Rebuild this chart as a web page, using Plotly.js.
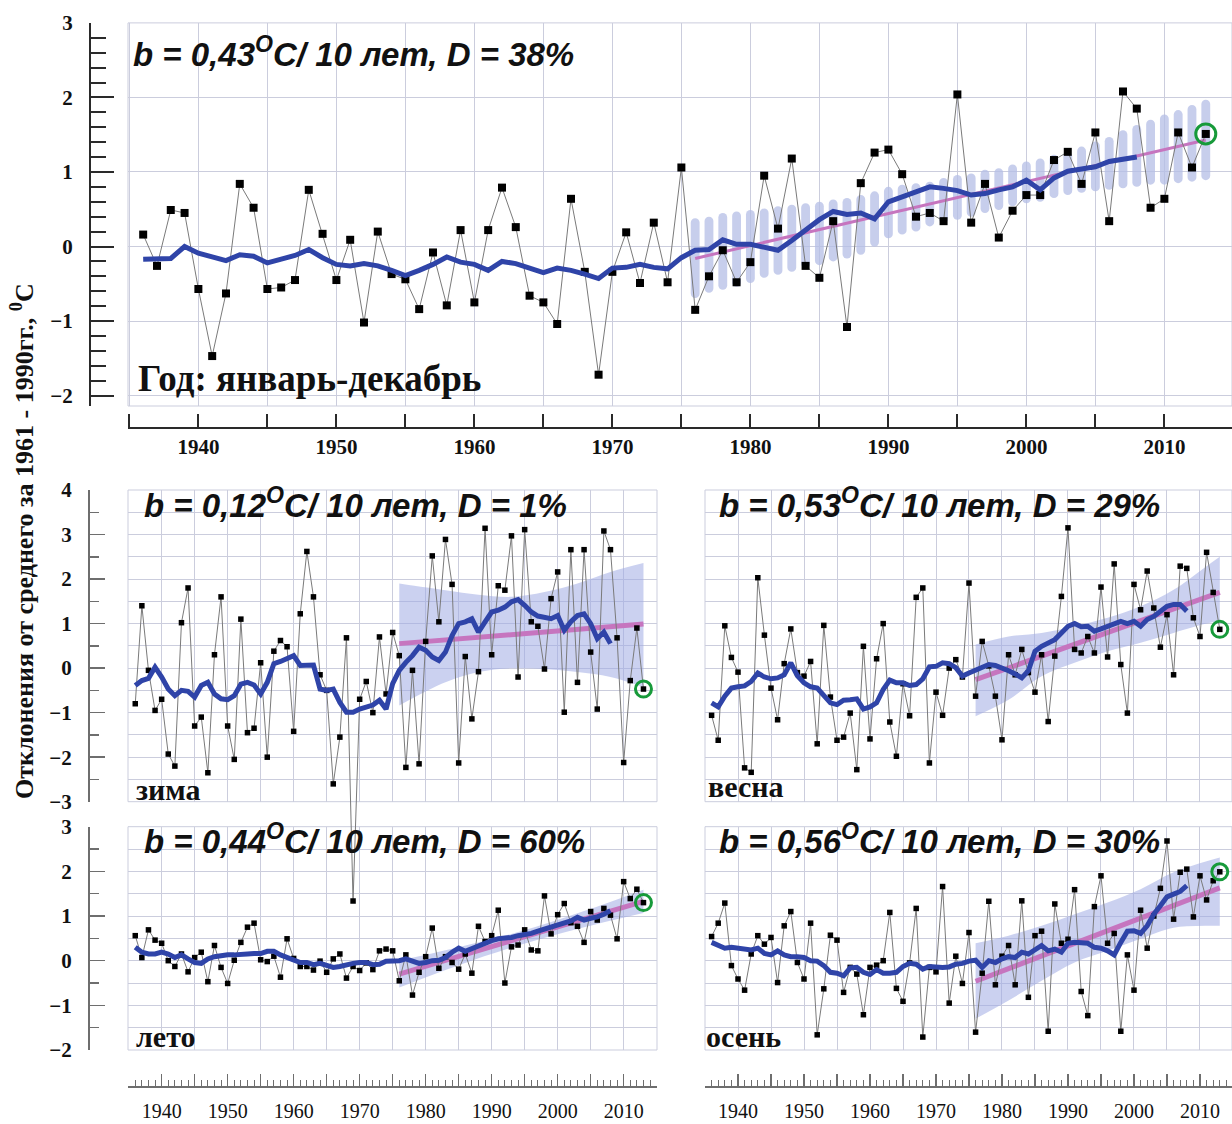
<!DOCTYPE html>
<html>
<head>
<meta charset="utf-8">
<script src="https://cdn.plot.ly/plotly-3.0.1.min.js"></script>
<style>
  html, body { margin: 0; padding: 0; background: #ffffff; }
  #chart { width: 1232px; height: 1124px; }
</style>
</head>
<body>
<div id="chart"></div>
<script>
// ---------------- DATA ----------------
const firstYear = 1936;          // first year of every series
const lastYear = 2013;           // last year of observations
const maLastYear = 2008;         // moving average ends here
const trendYears = [1976, 2013]; // linear trend period

// Annual (January-December) anomalies, 1936-2013
const annualValues = [
  0.16, -0.26, 0.49, 0.45, -0.57, -1.47, -0.63, 0.84, 0.52, -0.57,
  -0.55, -0.45, 0.76, 0.17, -0.45, 0.09, -1.02, 0.20, -0.37, -0.44,
  -0.84, -0.08, -0.79, 0.22, -0.75, 0.22, 0.79, 0.26, -0.66, -0.75,
  -1.04, 0.64, -0.34, -1.72, -0.34, 0.19, -0.49, 0.32, -0.48, 1.06,
  -0.85, -0.40, -0.05, -0.48, -0.21, 0.95, 0.24, 1.18, -0.26, -0.42,
  0.34, -1.08, 0.85, 1.26, 1.30, 0.97, 0.40, 0.45, 0.34, 2.04,
  0.32, 0.84, 0.12, 0.48, 0.69, 0.69, 1.16, 1.27, 0.84, 1.53,
  0.34, 2.08, 1.85, 0.52, 0.64, 1.53, 1.06, 1.51
];
const annualSmooth = [
  -0.17, -0.17, -0.16, 0.00, -0.09, -0.14, -0.19, -0.11, -0.13, -0.22,
  -0.17, -0.12, -0.04, -0.15, -0.24, -0.26, -0.23, -0.26, -0.32, -0.39,
  -0.32, -0.24, -0.14, -0.21, -0.24, -0.32, -0.20, -0.23, -0.29, -0.35,
  -0.29, -0.32, -0.37, -0.43, -0.29, -0.28, -0.24, -0.28, -0.30, -0.15,
  -0.05, -0.04, 0.09, 0.03, 0.03, -0.01, -0.05, 0.08, 0.23, 0.36,
  0.47, 0.43, 0.45, 0.37, 0.60, 0.67, 0.74, 0.80, 0.78, 0.75,
  0.69, 0.71, 0.76, 0.80, 0.89, 0.76, 0.92, 1.01, 1.04, 1.07,
  1.14, 1.17, 1.20
];
const annualTrend = [-0.16, 1.43];
// confidence stripes 1976-2013
const annualBandUpper = [
  0.38, 0.40, 0.45, 0.47, 0.49, 0.51, 0.54, 0.56, 0.58, 0.60,
  0.63, 0.65, 0.69, 0.74, 0.80, 0.83, 0.85, 0.87, 0.92, 0.96,
  0.98, 1.03, 1.05, 1.10, 1.14, 1.18, 1.23, 1.27, 1.34, 1.41,
  1.47, 1.56, 1.63, 1.70, 1.77, 1.83, 1.90, 1.97
];
const annualBandLower = [
  -0.69, -0.62, -0.58, -0.54, -0.49, -0.42, -0.38, -0.34, -0.29, -0.25,
  -0.20, -0.16, -0.11, 0.00, 0.11, 0.16, 0.20, 0.27, 0.31, 0.36,
  0.40, 0.45, 0.49, 0.54, 0.58, 0.60, 0.65, 0.69, 0.72, 0.74,
  0.76, 0.78, 0.80, 0.83, 0.83, 0.85, 0.87, 0.89
];

// Winter
const winterValues = [
  -0.80, 1.40, -0.05, -0.95, -0.70, -1.93, -2.20, 1.02, 1.80, -1.30,
  -1.10, -2.35, 0.30, 1.60, -1.30, -2.05, 1.10, -1.45, -1.35, 0.12,
  -2.00, 0.38, 0.62, 0.48, -1.42, 1.22, 2.62, 1.60, -0.15, -0.50,
  -2.60, -1.55, 0.68, -5.23, -0.70, -0.30, -1.00, 0.70, -0.58, 0.80,
  0.28, -2.23, -0.05, -2.15, 0.60, 2.52, 1.04, 2.89, 1.88, -2.13,
  0.26, -1.14, -0.08, 3.14, 0.30, 1.85, 1.75, 2.97, -0.20, 3.11,
  1.04, 0.94, -0.02, 1.56, 2.16, -0.99, 2.66, -0.32, 2.66, 0.36,
  -0.92, 3.08, 2.66, 0.68, -2.12, -0.28, 0.90, -0.47
];
const winterSmooth = [
  -0.39, -0.28, -0.23, 0.02, -0.20, -0.47, -0.62, -0.50, -0.52, -0.65,
  -0.39, -0.32, -0.58, -0.69, -0.71, -0.62, -0.36, -0.32, -0.38, -0.58,
  -0.32, 0.10, 0.15, 0.22, 0.28, 0.06, 0.07, 0.07, -0.47, -0.50,
  -0.47, -0.77, -0.99, -0.99, -0.92, -0.86, -0.83, -0.72, -0.92, -0.35,
  -0.05, 0.13, 0.28, 0.47, 0.40, 0.25, 0.17, 0.36, 0.73, 1.00,
  1.04, 1.11, 0.81, 1.04, 1.26, 1.30, 1.37, 1.49, 1.54, 1.41,
  1.26, 1.17, 1.15, 1.11, 1.18, 0.85, 1.04, 1.18, 1.22, 1.00,
  0.66, 0.81, 0.55
];
const winterTrend = [0.55, 0.99];
const winterBandYears = [1976, 1983, 1988, 1993, 1998, 2003, 2008, 2013];
const winterBandUpper = [1.90, 1.75, 1.65, 1.60, 1.71, 1.90, 2.16, 2.36];
const winterBandLower = [-0.84, -0.32, -0.09, 0.00, -0.02, -0.09, -0.20, -0.43];

// Spring
const springValues = [
  -1.06, -1.62, 0.95, 0.24, -0.09, -2.24, -2.34, 2.03, 0.74, -0.45,
  -1.16, 0.10, 0.88, -0.10, -0.18, 0.15, -1.70, 0.96, -0.65, -1.62,
  -1.55, -1.01, -2.28, 0.49, -1.59, 0.21, 1.00, -1.21, -1.98, -0.35,
  -1.07, 1.59, 1.80, -2.13, -0.54, -1.06, 0.00, 0.19, -0.20, 1.91,
  -0.63, 0.60, 0.05, -0.63, -1.61, 0.30, -0.15, 0.42, -0.10, -0.54,
  0.30, -1.20, 0.27, 1.61, 3.15, 0.42, 0.34, 0.71, 0.34, 1.82,
  0.25, 2.34, 0.08, -1.01, 1.88, 1.31, 2.18, 1.35, 0.47, 1.20,
  -0.15, 2.29, 2.24, 1.13, 0.71, 2.60, 1.70, 0.87
];
const springSmooth = [
  -0.78, -0.87, -0.63, -0.45, -0.42, -0.40, -0.30, -0.11, -0.20, -0.24,
  -0.22, -0.15, 0.12, -0.17, -0.33, -0.42, -0.45, -0.60, -0.78, -0.82,
  -0.72, -0.71, -0.69, -0.92, -0.87, -0.78, -0.48, -0.27, -0.33, -0.33,
  -0.39, -0.37, -0.24, 0.03, 0.04, 0.12, 0.10, 0.01, -0.18, -0.11,
  -0.04, 0.04, 0.08, 0.06, 0.01, -0.06, -0.13, -0.22, -0.06, 0.38,
  0.49, 0.57, 0.64, 0.79, 0.94, 1.00, 0.93, 0.94, 0.83, 0.88,
  0.94, 1.02, 1.05, 1.00, 1.05, 0.94, 1.09, 1.16, 1.28, 1.39,
  1.43, 1.43, 1.28
];
const springTrend = [-0.26, 1.70];
const springBandYears = [1976, 1981, 1986, 1991, 1996, 2001, 2006, 2011, 2013];
const springBandUpper = [0.53, 0.71, 0.79, 0.94, 1.13, 1.39, 1.76, 2.29, 2.50];
const springBandLower = [-1.08, -0.71, -0.18, 0.12, 0.38, 0.57, 0.79, 1.00, 1.05];

// Summer
const summerValues = [
  0.56, 0.07, 0.69, 0.46, 0.39, 0.00, -0.13, 0.15, -0.25, 0.07,
  0.19, -0.47, 0.34, -0.15, -0.51, 0.01, 0.41, 0.75, 0.84, 0.02,
  -0.02, 0.10, -0.37, 0.49, 0.05, -0.13, -0.13, -0.21, -0.01, -0.26,
  0.04, 0.15, -0.39, -0.13, -0.22, -0.05, -0.20, 0.22, 0.26, 0.22,
  -0.45, 0.13, -0.77, -0.26, 0.09, 0.73, -0.17, 0.09, -0.04, -0.19,
  0.15, -0.28, 0.77, 0.43, 0.56, 1.13, -0.50, 0.31, 0.35, 0.69,
  0.24, 0.22, 1.45, 0.60, 1.03, 1.28, 0.85, 0.77, 0.41, 1.10,
  0.91, 1.17, 1.02, 0.49, 1.77, 1.39, 1.60, 1.30
];
const summerSmooth = [
  0.30, 0.19, 0.15, 0.15, 0.19, 0.15, 0.07, 0.13, 0.04, -0.04,
  -0.06, 0.04, 0.09, 0.12, 0.13, 0.13, 0.13, 0.15, 0.16, 0.16,
  0.21, 0.21, 0.13, 0.07, 0.01, -0.04, -0.04, -0.09, -0.06, -0.11,
  -0.15, -0.13, -0.09, -0.06, -0.04, -0.04, -0.09, -0.08, -0.01, 0.00,
  0.00, 0.04, 0.00, -0.06, -0.04, 0.00, 0.01, 0.07, 0.19, 0.28,
  0.21, 0.27, 0.34, 0.41, 0.45, 0.49, 0.50, 0.52, 0.56, 0.58,
  0.61, 0.66, 0.71, 0.75, 0.80, 0.84, 0.89, 0.97, 0.91, 0.95,
  0.98, 1.04, 1.12
];
const summerTrend = [-0.30, 1.33];
const summerBandYears = [1976, 1985, 1994, 2004, 2013];
const summerBandUpper = [0.00, 0.30, 0.64, 1.11, 1.59];
const summerBandLower = [-0.60, -0.10, 0.34, 0.75, 1.07];

// Autumn
const autumnValues = [
  0.54, 0.84, 1.29, -0.11, -0.41, -0.66, 0.15, 0.56, 0.37, 0.52,
  -0.49, 0.78, 1.10, -0.04, -0.41, 0.84, -1.66, -0.63, 0.57, 0.46,
  -0.71, -0.15, -0.30, -1.21, -0.15, -0.10, 0.00, 1.08, -0.62, -0.91,
  -0.05, 1.17, -1.71, -0.15, -0.25, 1.66, -0.95, 0.10, -0.51, 0.63,
  -1.60, -0.28, 1.33, -0.54, 0.10, 0.34, -0.54, 1.34, -0.82, 0.56,
  0.66, -1.58, 1.27, 0.39, 0.48, 1.59, -0.69, -1.23, 1.21, 1.90,
  0.39, 0.61, -1.58, 0.13, -0.66, 1.13, 0.28, 1.00, 1.62, 2.68,
  0.93, 1.98, 2.05, 0.98, 1.90, 1.36, 1.79, 1.99
];
const autumnSmooth = [
  0.41, 0.34, 0.28, 0.30, 0.28, 0.26, 0.24, 0.28, 0.16, 0.13,
  0.22, 0.13, 0.09, 0.09, 0.07, 0.00, -0.01, -0.11, -0.26, -0.28,
  -0.34, -0.16, -0.15, -0.26, -0.31, -0.20, -0.28, -0.28, -0.26, -0.13,
  -0.06, -0.08, -0.19, -0.13, -0.15, -0.15, -0.14, -0.08, -0.06, -0.01,
  0.01, -0.15, 0.00, -0.04, 0.04, 0.09, 0.07, 0.19, 0.15, 0.24,
  0.34, 0.22, 0.26, 0.19, 0.39, 0.41, 0.41, 0.39, 0.30, 0.28,
  0.22, 0.13, 0.41, 0.66, 0.67, 0.61, 0.78, 1.04, 1.23, 1.43,
  1.49, 1.55, 1.68
];
const autumnTrend = [-0.46, 1.63];
const autumnBandYears = [1976, 1981, 1986, 1991, 1996, 2001, 2006, 2013];
const autumnBandUpper = [0.39, 0.56, 0.78, 1.04, 1.30, 1.60, 1.98, 2.31];
const autumnBandLower = [-1.30, -0.89, -0.45, -0.04, 0.22, 0.49, 0.74, 0.78];

// Texts
const statTexts = {
  annual: 'b = 0,43<sup>O</sup>C/ 10 лет, D = 38%',
  winter: 'b = 0,12<sup>O</sup>C/ 10 лет, D = 1%',
  spring: 'b = 0,53<sup>O</sup>C/ 10 лет, D = 29%',
  summer: 'b = 0,44<sup>O</sup>C/ 10 лет, D = 60%',
  autumn: 'b = 0,56<sup>O</sup>C/ 10 лет, D = 30%'
};
const periodLabels = ['Год: январь-декабрь', 'зима', 'весна', 'лето', 'осень'];
const yTitle = 'Отклонения от среднего за 1961 - 1990гг., <sup>0</sup>С';
const tickYears = [1935,1940,1945,1950,1955,1960,1965,1970,1975,1980,1985,1990,1995,2000,2005,2010,2015];
const tickLabels = ['','1940','','1950','','1960','','1970','','1980','','1990','','2000','','2010',''];

// ---------------- HELPERS ----------------
const W = 1232, H = 1124;
const fx = px => px / W;
const fy = py => 1 - py / H;
function yearsFrom(start, n) { const a = []; for (let i = 0; i < n; i++) a.push(start + i); return a; }

const years = yearsFrom(firstYear, lastYear - firstYear + 1);
const maYears = yearsFrom(firstYear, maLastYear - firstYear + 1);
const bandYearsTop = yearsFrom(trendYears[0], trendYears[1] - trendYears[0] + 1);

const GRID = '#cbcddd';
const AX = '#2a2a2a';
const AXL = '#6e6e6e';
const BLUE = '#2f44a8';
const PINK = '#c675bf';
const GREEN = '#179a3a';
const BAND = 'rgba(160,172,228,0.55)';
const SERIF = 'Liberation Serif, Times New Roman, serif';
const SANS = 'Liberation Sans, Arial, sans-serif';

const traces = [];

function seriesTraces(xa, ya, vals, smooth, msize, lw, circleSize) {
  traces.push({
    x: years, y: vals, xaxis: xa, yaxis: ya, type: 'scatter', mode: 'lines+markers',
    line: { color: '#7a7a7a', width: 1 },
    marker: { symbol: 'square', size: msize, color: '#000' },
    cliponaxis: false, hoverinfo: 'skip', showlegend: false
  });
  traces.push({
    x: maYears, y: smooth, xaxis: xa, yaxis: ya, type: 'scatter', mode: 'lines',
    line: { color: BLUE, width: lw }, hoverinfo: 'skip', showlegend: false
  });
  traces.push({
    x: [years[years.length - 1]], y: [vals[vals.length - 1]], xaxis: xa, yaxis: ya,
    type: 'scatter', mode: 'markers',
    marker: { symbol: 'circle-open', size: circleSize, color: GREEN, line: { width: 3, color: GREEN } },
    cliponaxis: false, hoverinfo: 'skip', showlegend: false
  });
}
function trendTrace(xa, ya, trend, width) {
  traces.push({
    x: trendYears, y: trend, xaxis: xa, yaxis: ya, type: 'scatter', mode: 'lines',
    line: { color: PINK, width: width }, hoverinfo: 'skip', showlegend: false
  });
}
function bandTraces(xa, ya, bx, lo, hi) {
  traces.push({
    x: bx, y: lo, xaxis: xa, yaxis: ya, type: 'scatter', mode: 'lines',
    line: { width: 0, shape: 'spline', color: BAND }, hoverinfo: 'skip', showlegend: false
  });
  traces.push({
    x: bx, y: hi, xaxis: xa, yaxis: ya, type: 'scatter', mode: 'lines', fill: 'tonexty',
    fillcolor: BAND, line: { width: 0, shape: 'spline', color: BAND }, hoverinfo: 'skip', showlegend: false
  });
}

// ---- Top (annual) ----
traces.push({
  x: bandYearsTop, y: annualBandUpper.map((u, i) => u - annualBandLower[i]), base: annualBandLower,
  type: 'bar', xaxis: 'x', yaxis: 'y', width: 0.64,
  marker: { color: 'rgba(180,190,230,0.75)', cornerradius: '50%', line: { width: 0 } },
  hoverinfo: 'skip', showlegend: false
});
trendTrace('x', 'y', annualTrend, 3);
seriesTraces('x', 'y', annualValues, annualSmooth, 8, 5, 20);

// ---- Winter: band/trend on grid subplot, series on tall data subplot ----
bandTraces('x2', 'y2', winterBandYears, winterBandLower, winterBandUpper);
trendTrace('x2', 'y2', winterTrend, 5);
seriesTraces('x4', 'y3', winterValues, winterSmooth, 5.5, 5, 16);

// ---- Spring ----
bandTraces('x3', 'y4', springBandYears, springBandLower, springBandUpper);
trendTrace('x3', 'y4', springTrend, 5);
seriesTraces('x3', 'y4', springValues, springSmooth, 5.5, 5, 16);

// ---- Summer ----
bandTraces('x2', 'y5', summerBandYears, summerBandLower, summerBandUpper);
trendTrace('x2', 'y5', summerTrend, 5);
seriesTraces('x2', 'y5', summerValues, summerSmooth, 5.5, 5, 16);

// ---- Autumn ----
bandTraces('x3', 'y6', autumnBandYears, autumnBandLower, autumnBandUpper);
trendTrace('x3', 'y6', autumnTrend, 5);
seriesTraces('x3', 'y6', autumnValues, autumnSmooth, 5.5, 5, 16);

// ---------------- LAYOUT ----------------
const PX_PER_UNIT_LOW = (801.7 - 490) / 7;

function lowerX(d0, d1, range) {
  return {
    domain: [fx(d0), fx(d1)], range: range, anchor: 'free', position: fy(1086),
    showline: true, linecolor: AXL, linewidth: 1.5,
    ticks: 'inside', ticklen: 12, tickwidth: 1.5, tickcolor: AXL,
    tickmode: 'array', tickvals: tickYears, ticktext: tickLabels,
    minor: { ticks: 'inside', ticklen: 6, tickwidth: 1, tickcolor: AXL, tick0: 1935, dtick: 1, showgrid: false },
    showgrid: true, gridcolor: GRID, gridwidth: 1, zeroline: false,
    tickfont: { family: SERIF, size: 20, color: '#111' }, ticklabelstandoff: 6, fixedrange: true
  };
}
function rulerY(top, bottom, range) {
  return {
    domain: [fy(bottom), fy(top)], range: range, anchor: 'free', position: fx(88), side: 'left',
    showline: true, linecolor: AXL, linewidth: 1.5,
    ticks: 'inside', ticklen: 15, tickwidth: 1.5, tickcolor: AXL, dtick: 1, tick0: 0,
    minor: { ticks: 'inside', ticklen: 9, tickwidth: 1.5, tickcolor: AXL, dtick: 0.5, tick0: 0, showgrid: true, gridcolor: GRID, gridwidth: 1 },
    showgrid: true, gridcolor: GRID, gridwidth: 1, zeroline: false,
    tickfont: { family: SERIF, size: 21, color: '#111', weight: 'bold' }, ticklabelstandoff: 12, fixedrange: true
  };
}
function plainY(top, bottom, range, xa) {
  return {
    domain: [fy(bottom), fy(top)], range: range, anchor: xa,
    showline: false, ticks: '', showticklabels: false, dtick: 0.5, tick0: 0,
    showgrid: true, gridcolor: GRID, gridwidth: 1, zeroline: false, fixedrange: true
  };
}

function ann(text, x, y, font, extra) {
  return Object.assign({ text: text, x: fx(x), y: fy(y), xref: 'paper', yref: 'paper',
    xanchor: 'left', yanchor: 'middle', showarrow: false, font: font }, extra || {});
}
const statFontBig = { family: SANS, size: 33, color: '#111' };
const statFont = { family: SANS, size: 33, color: '#111' };
const labelFont = { family: SERIF, size: 30, color: '#111' };

function frame(x0, x1, y0, y1) {
  return { type: 'rect', xref: 'paper', yref: 'paper', x0: fx(x0), x1: fx(x1), y0: fy(y1), y1: fy(y0),
    line: { color: GRID, width: 1 }, layer: 'below' };
}

const layout = {
  width: W, height: H, margin: { l: 0, r: 0, t: 0, b: 0 },
  paper_bgcolor: '#ffffff', plot_bgcolor: 'rgba(0,0,0,0)',
  showlegend: false, hovermode: false, dragmode: false,
  xaxis: {
    domain: [fx(128), 1], range: [1934.9, 2014.9], anchor: 'free', position: fy(428),
    showline: true, linecolor: AX, linewidth: 2,
    ticks: 'inside', ticklen: 13, tickwidth: 2, tickcolor: AX,
    tickmode: 'array', tickvals: tickYears, ticktext: tickLabels,
    showgrid: true, gridcolor: GRID, gridwidth: 1, zeroline: false,
    tickfont: { family: SERIF, size: 21, color: '#111', weight: 'bold' }, ticklabelstandoff: 0, fixedrange: true
  },
  yaxis: {
    domain: [fy(406), fy(22.9)], range: [-2.14, 3], anchor: 'free', position: fx(90), side: 'left',
    showline: true, linecolor: AX, linewidth: 2,
    ticks: 'inside', ticklen: 23, tickwidth: 2, tickcolor: AX, dtick: 1, tick0: 0,
    minor: { ticks: 'inside', ticklen: 15, tickwidth: 2, tickcolor: AX, dtick: 0.2, tick0: 0, showgrid: false },
    showgrid: true, gridcolor: GRID, gridwidth: 1, zeroline: false,
    tickfont: { family: SERIF, size: 21, color: '#111', weight: 'bold' }, ticklabelstandoff: 12, fixedrange: true
  },
  xaxis2: lowerX(128, 657, [1934.9, 2015.05]),
  xaxis3: lowerX(705, 1232, [1935, 2014.85]),
  xaxis4: { domain: [fx(128), fx(657)], range: [1934.9, 2015.05], anchor: 'y3', visible: false, showgrid: false, zeroline: false, fixedrange: true },
  yaxis2: rulerY(490, 801.7, [-3, 4]),
  yaxis3: { domain: [fy(490 + 9.5 * PX_PER_UNIT_LOW), fy(490)], range: [-5.5, 4], anchor: 'x4', visible: false, showgrid: false, zeroline: false, fixedrange: true },
  yaxis4: plainY(490, 801.7, [-3, 4], 'x3'),
  yaxis5: rulerY(826.7, 1050, [-2, 3]),
  yaxis6: plainY(826.7, 1050, [-2, 3], 'x3'),
  shapes: [
    frame(128, 1232, 22.9, 406),
    frame(128, 657, 490, 801.7),
    frame(705, 1232, 490, 801.7),
    frame(128, 657, 826.7, 1050),
    frame(705, 1232, 826.7, 1050)
  ],
  annotations: [
    ann('<b><i>' + statTexts.annual + '</i></b>', 131, 52, statFontBig),
    ann('<b>' + periodLabels[0] + '</b>', 136, 378, { family: SERIF, size: 37, color: '#111' }),
    ann('<b><i>' + statTexts.winter + '</i></b>', 142, 503, statFont),
    ann('<b><i>' + statTexts.spring + '</i></b>', 717, 503, statFont),
    ann('<b><i>' + statTexts.summer + '</i></b>', 142, 839, statFont),
    ann('<b><i>' + statTexts.autumn + '</i></b>', 717, 839, statFont),
    ann('<b>' + periodLabels[1] + '</b>', 134, 789, labelFont),
    ann('<b>' + periodLabels[2] + '</b>', 706, 786, labelFont),
    ann('<b>' + periodLabels[3] + '</b>', 134, 1036, labelFont),
    ann('<b>' + periodLabels[4] + '</b>', 704, 1036, labelFont),
    { text: '<b>' + yTitle + '</b>', x: fx(22), y: fy(541), xref: 'paper', yref: 'paper',
      xanchor: 'center', yanchor: 'middle', textangle: -90, showarrow: false,
      font: { family: SERIF, size: 26, color: '#111' } }
  ]
};

Plotly.newPlot('chart', traces, layout, { staticPlot: true, displayModeBar: false });
</script>
</body>
</html>
